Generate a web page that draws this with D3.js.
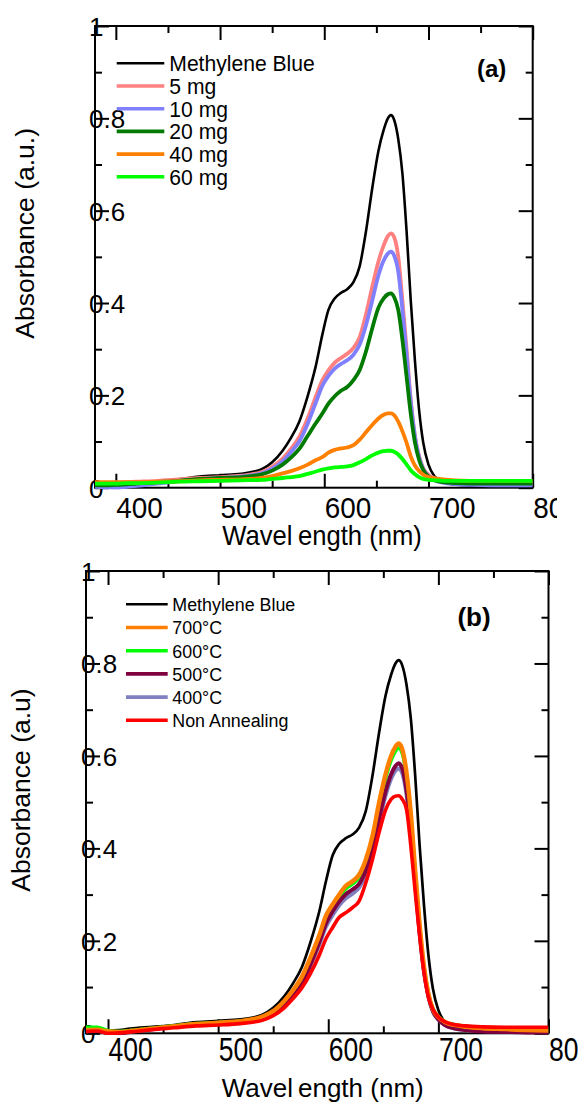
<!DOCTYPE html>
<html>
<head>
<meta charset="utf-8">
<script src="https://cdn.jsdelivr.net/npm/d3@7"></script>
<style>
  html, body { margin: 0; padding: 0; background: #fff; }
  svg { display: block; font-family: "Liberation Sans", Arial, Helvetica, sans-serif; }
</style>
</head>
<body>
<svg id="chart" width="581" height="1104"></svg>
<script>
// Wavelength grid (nm) shared by every spectrum
const wavelength = [380, 390, 400, 410, 420, 440, 460, 480, 500, 520,
  540, 550, 560, 568, 576, 584, 592, 598, 604, 610,
  616, 622, 628, 634, 640, 646, 652, 657, 661, 664,
  667, 671, 675, 679, 683, 687, 691, 695, 700, 706,
  714, 725, 740, 760, 780, 800];

// Absorbance of the untreated dye solution
const methyleneBlue = [.006, .007, .006, .007, .010, .014, .018, .024, .027, .030,
  .040, .055, .080, .108, .143, .198, .265, .330, .385, .410,
  .422, .430, .445, .480, .555, .648, .730, .775, .800, .807,
  .797, .755, .680, .555, .405, .275, .168, .097, .050, .024,
  .012, .007, .004, .003, .002, .002];

// (a) catalyst dosage series
const dose5mg = [.010, .010, .011, .012, .013, .015, .018, .021, .023, .026,
  .034, .045, .063, .084, .110, .150, .198, .232, .254, .271,
  .281, .290, .303, .326, .375, .435, .490, .525, .545, .551,
  .543, .500, .405, .300, .190, .112, .068, .042, .028, .020,
  .015, .012, .010, .009, .008, .008];
const dose10mg = [.002, .001, .000, .002, .004, .009, .014, .018, .021, .024,
  .031, .041, .057, .077, .100, .138, .185, .220, .242, .258,
  .268, .276, .288, .310, .352, .405, .460, .492, .507, .511,
  .503, .468, .385, .287, .185, .110, .066, .040, .025, .016,
  .011, .008, .006, .005, .005, .005];
const dose20mg = [.005, .005, .006, .007, .009, .012, .015, .019, .021, .023,
  .029, .037, .050, .065, .084, .112, .140, .160, .182, .198,
  .210, .218, .233, .255, .295, .345, .390, .410, .419, .421,
  .413, .385, .320, .240, .160, .098, .060, .038, .024, .016,
  .012, .010, .009, .009, .009, .009];
const dose40mg = [.012, .012, .012, .012, .012, .013, .014, .016, .017, .018,
  .021, .025, .031, .036, .042, .050, .060, .066, .076, .082,
  .085, .087, .092, .104, .120, .136, .150, .158, .161, .161,
  .157, .143, .122, .097, .068, .048, .036, .028, .023, .020,
  .018, .016, .015, .015, .015, .015];
const dose60mg = [.009, .009, .009, .010, .010, .011, .013, .014, .015, .016,
  .017, .019, .021, .023, .025, .030, .035, .039, .042, .044,
  .045, .046, .049, .055, .062, .070, .076, .079, .080, .080,
  .078, .072, .062, .050, .038, .029, .023, .019, .017, .016,
  .015, .015, .015, .015, .015, .015];

// (b) annealing temperature series
const anneal700 = [.007, .008, .004, .003, .005, .010, .015, .020, .023, .026,
  .036, .048, .070, .093, .122, .165, .213, .255, .279, .300,
  .319, .329, .343, .375, .425, .497, .560, .600, .620, .627,
  .616, .565, .475, .350, .235, .143, .085, .052, .035, .024,
  .018, .014, .011, .009, .007, .006];
const anneal600 = [.013, .013, .006, .004, .006, .011, .016, .021, .023, .026,
  .035, .047, .069, .092, .120, .162, .209, .250, .274, .295,
  .313, .323, .337, .368, .418, .489, .551, .590, .610, .617,
  .607, .557, .469, .346, .232, .142, .085, .053, .036, .025,
  .019, .015, .012, .011, .010, .009];
const anneal500 = [.004, .005, .001, .000, .003, .009, .014, .018, .020, .023,
  .031, .042, .061, .082, .107, .150, .198, .238, .264, .285,
  .301, .311, .323, .352, .398, .463, .523, .560, .578, .584,
  .574, .527, .444, .328, .219, .134, .080, .048, .030, .018,
  .011, .007, .004, .003, .002, .002];
const anneal400 = [.005, .006, .002, .001, .004, .009, .014, .018, .020, .023,
  .030, .041, .059, .080, .104, .146, .193, .231, .256, .277,
  .292, .302, .315, .344, .390, .455, .514, .550, .568, .573,
  .564, .518, .437, .323, .216, .132, .079, .047, .030, .018,
  .011, .007, .005, .004, .003, .003];
const nonAnnealing = [.004, .005, .000, .001, .003, .008, .012, .016, .018, .021,
  .028, .038, .055, .075, .098, .130, .170, .205, .229, .251,
  .261, .272, .286, .325, .375, .433, .483, .506, .513, .514,
  .507, .485, .405, .305, .210, .131, .078, .052, .035, .025,
  .019, .016, .014, .013, .013, .013];

// Axis ticks and labels
const xDomain = [380, 800];
const yDomain = [0, 1];
const xMajorTicks = [400, 500, 600, 700, 800];
const xMinorTicks = [450, 550, 650, 750];
const yMajorTicks = [0, 0.2, 0.4, 0.6, 0.8, 1];
const yMinorTicks = [0.1, 0.3, 0.5, 0.7, 0.9];
const yTickLabels = ["0", "0.2", "0.4", "0.6", "0.8", "1"];

const svg = d3.select("#chart");

const panels = [
  {
    id: "pa",
    box: { left: 95, right: 532.7, top: 26, bottom: 487.7 },
    series: [
      { name: "Methylene Blue", values: methyleneBlue, color: "#000000", width: 2.6 },
      { name: "5 mg", values: dose5mg, color: "#ff8080", width: 3.8 },
      { name: "10 mg", values: dose10mg, color: "#8080ff", width: 3.8 },
      { name: "20 mg", values: dose20mg, color: "#007a00", width: 3.8 },
      { name: "40 mg", values: dose40mg, color: "#ff8000", width: 3.8 },
      { name: "60 mg", values: dose60mg, color: "#00ff00", width: 3.8 }
    ],
    drawOrder: [0, 1, 2, 3, 4, 5],
    legend: { x1: 116.7, x2: 164.3, tx: 169.3, y0: 63.3, dy: 22.7, size: 22, sx: 0.96 },
    xLabel: { size: 30, sx: 0.93, baseline: 518, clip: 557 },
    yLabel: { size: 26, dx: -6 },
    xTitle: { text1: "Wavel", text2: "ength (nm)", cx: 322, baseline: 545, size: 28, sx: 0.915, gap: 6 },
    yTitle: { text: "Absorbance (a.u.)", bx: 33.5, cy: 233.3, size: 26.5 },
    tag: { text: "(a)", cx: 491.7, baseline: 77, size: 24 }
  },
  {
    id: "pb",
    box: { left: 86, right: 548.5, top: 571, bottom: 1033.3 },
    series: [
      { name: "Methylene Blue", values: methyleneBlue, color: "#000000", width: 2.7 },
      { name: "700°C", values: anneal700, color: "#ff8000", width: 4.4 },
      { name: "600°C", values: anneal600, color: "#00ff00", width: 3.6 },
      { name: "500°C", values: anneal500, color: "#800040", width: 4 },
      { name: "400°C", values: anneal400, color: "#8080c0", width: 4 },
      { name: "Non Annealing", values: nonAnnealing, color: "#ff0000", width: 3.6 }
    ],
    drawOrder: [0, 2, 4, 3, 1, 5],
    legend: { x1: 126, x2: 167.7, tx: 172.3, y0: 604.3, dy: 23.2, size: 19, sx: 0.94 },
    xLabel: { size: 34, sx: 0.78, baseline: 1061, clip: 578 },
    yLabel: { size: 26, dx: -5 },
    xTitle: { text1: "Wavel", text2: "ength (nm)", cx: 322.7, baseline: 1096.5, size: 26, sx: 1, gap: 5 },
    yTitle: { text: "Absorbance (a.u)", bx: 30, cy: 790, size: 26.5 },
    tag: { text: "(b)", cx: 474, baseline: 625.5, size: 26 }
  }
];

function styleTicks(sel) {
  sel.attr("font-size", null).attr("font-family", null);
  sel.select(".domain").remove();
  sel.selectAll(".tick line").attr("stroke", "#000").attr("stroke-width", 2);
}

function drawPanel(p) {
  const b = p.box;
  const x = d3.scaleLinear().domain(xDomain).range([b.left, b.right]);
  const y = d3.scaleLinear().domain(yDomain).range([b.bottom, b.top]);
  const g = svg.append("g").attr("class", "panel " + p.id);
  const defs = svg.append("defs");

  defs.append("clipPath").attr("id", p.id + "-plot")
    .append("rect")
    .attr("x", b.left).attr("y", b.top - 2)
    .attr("width", b.right - b.left).attr("height", b.bottom - b.top + 4);
  // the bottom axis group is translated to the baseline, so this rect is in its local space
  defs.append("clipPath").attr("id", p.id + "-xlab")
    .append("rect")
    .attr("x", 0).attr("y", -20)
    .attr("width", p.xLabel.clip).attr("height", 80);

  // minor ticks on all four sides
  g.append("g").attr("transform", `translate(0,${b.bottom})`)
    .call(d3.axisBottom(x).tickValues(xMinorTicks).tickSize(-7).tickSizeOuter(0).tickFormat(""))
    .call(styleTicks);
  g.append("g").attr("transform", `translate(0,${b.top})`)
    .call(d3.axisTop(x).tickValues(xMinorTicks).tickSize(-7).tickSizeOuter(0).tickFormat(""))
    .call(styleTicks);
  g.append("g").attr("transform", `translate(${b.left},0)`)
    .call(d3.axisLeft(y).tickValues(yMinorTicks).tickSize(-7).tickSizeOuter(0).tickFormat(""))
    .call(styleTicks);
  g.append("g").attr("transform", `translate(${b.right},0)`)
    .call(d3.axisRight(y).tickValues(yMinorTicks).tickSize(-7).tickSizeOuter(0).tickFormat(""))
    .call(styleTicks);

  // major ticks on top and right
  g.append("g").attr("transform", `translate(0,${b.top})`)
    .call(d3.axisTop(x).tickValues(xMajorTicks).tickSize(-14).tickSizeOuter(0).tickFormat(""))
    .call(styleTicks);
  g.append("g").attr("transform", `translate(${b.right},0)`)
    .call(d3.axisRight(y).tickValues(yMajorTicks).tickSize(-14).tickSizeOuter(0).tickFormat(""))
    .call(styleTicks);

  // bottom axis with labels starting at each tick
  const xAxis = g.append("g").attr("transform", `translate(0,${b.bottom})`)
    .call(d3.axisBottom(x).tickValues(xMajorTicks).tickSize(-14).tickSizeOuter(0).tickFormat(d3.format("d")))
    .call(styleTicks);
  xAxis.selectAll(".tick text")
    .attr("x", 0).attr("y", 0).attr("dy", null)
    .attr("text-anchor", "start")
    .attr("fill", "#000")
    .style("font-size", p.xLabel.size + "px")
    .attr("transform", `translate(0,${p.xLabel.baseline - b.bottom}) scale(${p.xLabel.sx},1)`);
  xAxis.attr("clip-path", `url(#${p.id}-xlab)`);

  // left axis with labels overlapping the frame
  const yAxis = g.append("g").attr("transform", `translate(${b.left},0)`)
    .call(d3.axisLeft(y).tickValues(yMajorTicks).tickSize(-14).tickSizeOuter(0)
      .tickFormat((d, i) => yTickLabels[i]))
    .call(styleTicks);
  yAxis.selectAll(".tick text")
    .attr("x", p.yLabel.dx).attr("dy", "0.36em")
    .attr("text-anchor", "start")
    .attr("fill", "#000")
    .style("font-size", p.yLabel.size + "px");

  // frame
  g.append("rect")
    .attr("x", b.left).attr("y", b.top)
    .attr("width", b.right - b.left).attr("height", b.bottom - b.top)
    .attr("fill", "none").attr("stroke", "#000").attr("stroke-width", 2);

  // spectra
  const line = d3.line()
    .x((d, i) => x(wavelength[i]))
    .y(d => y(d))
    .curve(d3.curveMonotoneX);
  g.append("g").attr("clip-path", `url(#${p.id}-plot)`)
    .selectAll("path")
    .data(p.drawOrder.map(i => p.series[i]))
    .join("path")
    .attr("d", s => line(s.values))
    .attr("fill", "none")
    .attr("stroke", s => s.color)
    .attr("stroke-width", s => s.width)
    .attr("stroke-linejoin", "round");

  // legend
  const L = p.legend;
  const items = g.append("g").attr("class", "legend")
    .selectAll("g").data(p.series).join("g");
  items.append("line")
    .attr("x1", L.x1).attr("x2", L.x2)
    .attr("y1", (d, i) => L.y0 + i * L.dy).attr("y2", (d, i) => L.y0 + i * L.dy)
    .attr("stroke", d => d.color)
    .attr("stroke-width", d => d.color === "#000000" ? 2.6 : 3.6);
  items.append("text")
    .attr("transform", (d, i) => `translate(${L.tx},${L.y0 + i * L.dy + 0.36 * L.size}) scale(${L.sx},1)`)
    .style("font-size", L.size + "px")
    .attr("fill", "#000")
    .text(d => d.name);

  // axis titles
  const xt = g.append("text")
    .attr("transform", `translate(${p.xTitle.cx},${p.xTitle.baseline}) scale(${p.xTitle.sx},1)`)
    .attr("text-anchor", "middle")
    .style("font-size", p.xTitle.size + "px")
    .attr("fill", "#000");
  xt.append("tspan").text(p.xTitle.text1);
  xt.append("tspan").attr("dx", p.xTitle.gap).text(p.xTitle.text2);

  g.append("text")
    .attr("transform", `translate(${p.yTitle.bx},${p.yTitle.cy}) rotate(-90)`)
    .attr("text-anchor", "middle")
    .style("font-size", p.yTitle.size + "px")
    .attr("fill", "#000")
    .text(p.yTitle.text);

  // panel tag
  g.append("text")
    .attr("x", p.tag.cx).attr("y", p.tag.baseline)
    .attr("text-anchor", "middle")
    .style("font-size", p.tag.size + "px")
    .style("font-weight", "bold")
    .attr("fill", "#000")
    .text(p.tag.text);
}

panels.forEach(drawPanel);
</script>
</body>
</html>
